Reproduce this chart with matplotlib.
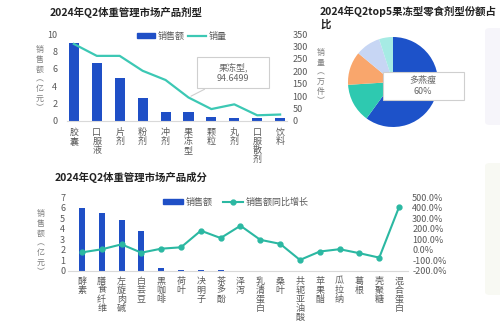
# -*- coding: utf-8 -*-
import matplotlib
matplotlib.use("Agg")
import matplotlib.pyplot as plt
from matplotlib.patches import Patch, Rectangle, FancyBboxPatch
from matplotlib.lines import Line2D

plt.rcParams['font.family'] = ['Noto Sans CJK SC', 'DejaVu Sans']

# top-left: product forms
form_cats = ['胶囊', '口服液', '片剂', '粉剂', '冲剂', '果冻型', '颗粒', '丸剂', '口服散剂', '饮料']
form_sales = [8.95, 6.65, 4.95, 2.7, 1.05, 1.05, 0.42, 0.38, 0.3, 0.3]
form_volume = [310, 262, 262, 202, 165, 94.6499, 48, 67, 23, 26]

# top-right: jelly snack share
pie_share = [60, 14, 12, 9, 5]
pie_top_name = '多燕瘦'

# bottom: ingredients
ingr_cats = ['酵素', '膳食纤维', '左旋肉碱', '白芸豆', '黑咖啡', '荷叶', '决明子', '茶多酚', '泽泻',
             '乳清蛋白', '桑叶', '共轭亚油酸', '苹果醋', '瓜拉纳', '葛根', '壳聚糖', '混合蛋白']
ingr_sales = [6.0, 5.47, 4.84, 3.83, 0.25, 0.13, 0.12, 0.05, 0, 0, 0, 0, 0, 0, 0, 0, 0]
ingr_growth = [-23, 6, 53, -26, 12, 25, 183, 113, 230, 96, 58, -95, -15, 7, -31, -73, 408]

BLUE = '#1f4fc6'
TEAL = '#3cc8b4'
TEAL2 = '#2bb8a2'
GRAY = '#595959'
W, H = 500, 322


def fx(px):
    return px / W


def fy(py):
    return 1 - py / H


def stack(s):
    return '\n'.join(s)


fig = plt.figure(figsize=(5, 3.22), dpi=100)
fig.patch.set_facecolor('white')

# faint side panels on the right edge
for y0, y1, c in [(28, 125, '#f6f5fa'), (163, 295, '#f8f9f3')]:
    fig.patches.append(FancyBboxPatch((fx(485), fy(y1)), 0.06, (y1 - y0) / H,
                                      boxstyle='round,pad=0,rounding_size=0.01',
                                      transform=fig.transFigure, fc=c, ec='none'))

# ---------- top-left chart ----------
ax1 = fig.add_axes([fx(67), fy(121), fx(287) - fx(67), 87 / H])
x = list(range(len(form_cats)))
ax1.bar(x, form_sales, width=0.44, color=BLUE)
ax1.set_ylim(0, 10)
ax1.set_yticks(range(0, 11, 2))
ax1.set_xlim(-0.3, len(form_cats) - 0.7)
ax1.set_xticks(x)
ax1.set_xticklabels([stack(c) for c in form_cats], fontsize=5.7, color=GRAY,
                    linespacing=1.0, va='top')
ax1b = ax1.twinx()
ax1b.plot(x, form_volume, color=TEAL, lw=1.6)
ax1b.set_ylim(0, 350)
ax1b.set_yticks(range(0, 351, 50))
for a in (ax1, ax1b):
    for s in a.spines.values():
        s.set_visible(False)
    a.tick_params(length=0, labelsize=6.5, labelcolor=GRAY)
ax1.spines['bottom'].set_visible(True)
ax1.spines['bottom'].set_color('#d9d9d9')
ax1.tick_params(axis='y', pad=7)
ax1.tick_params(axis='x', pad=5)
ax1b.tick_params(axis='y', pad=4)

fig.text(fx(50), fy(12), '2024年Q2体重管理市场产品剂型', fontsize=7.5, fontweight='bold',
         va='center', ha='left', color='#222222')
fig.text(fx(40), fy(79), stack('销售额') + '\n︵\n亿\n元\n︶', fontsize=5.7, color='#7f7f7f',
         ha='center', va='center', linespacing=1.1)
fig.text(fx(321), fy(77), stack('销量') + '\n︵\n万\n件\n︶', fontsize=5.7, color='#7f7f7f',
         ha='center', va='center', linespacing=1.1)
fig.legend(handles=[Patch(color=BLUE, label='销售额'), Line2D([], [], color=TEAL, lw=1.6, label='销量')],
           loc='center', bbox_to_anchor=(fx(182), fy(36)), ncol=2, frameon=False, fontsize=6.5,
           handlelength=2.0, handleheight=0.6, columnspacing=0.3, handletextpad=0.3,
           labelcolor=GRAY)

# callout for 果冻型
fig.patches.append(Rectangle((fx(197), fy(88)), (269 - 197) / W, 31 / H, transform=fig.transFigure,
                             fc='white', ec='#cfcfcf', lw=0.8, zorder=5))
fig.text(fx(233), fy(72.5), '果冻型,\n' + str(form_volume[5]), fontsize=6.5, color='#666666',
         ha='center', va='center', linespacing=1.2, zorder=6)
ax1b.annotate('', xy=(5, form_volume[5]), xytext=(fx(207), fy(88)), textcoords='figure fraction',
              arrowprops=dict(arrowstyle='-', color='#cfcfcf', lw=0.8))

# ---------- top-right pie ----------
fig.text(fx(320), fy(6), '2024年Q2top5果冻型零食剂型份额占\n比', fontsize=7.5, fontweight='bold',
         va='top', ha='left', linespacing=1.25, color='#222222')
axp = fig.add_axes([fx(348), fy(127), 90 / W, 90 / H])
axp.pie(pie_share, colors=['#1d52c9', '#2ec9b0', '#f9a66c', '#c7d6f4', '#a6ebe4'],
        startangle=90, counterclock=False, wedgeprops=dict(linewidth=0))
axp.set_xlim(-1, 1)
axp.set_ylim(-1, 1)
axp.set_aspect('equal')
axp.axis('off')
fig.patches.append(Rectangle((fx(383), fy(100)), (464 - 383) / W, 28 / H, transform=fig.transFigure,
                             fc='white', ec='#cfcfcf', lw=0.8, zorder=5))
fig.text(fx(423), fy(86), pie_top_name + '\n' + '%d%%' % pie_share[0], fontsize=6.5, color='#666666',
         ha='center', va='center', linespacing=1.2, zorder=6)

# ---------- bottom chart ----------
ax2 = fig.add_axes([fx(68), fy(271), fx(408) - fx(68), 73.7 / H])
x2 = list(range(len(ingr_cats)))
ax2.bar(x2, ingr_sales, width=0.3, color=BLUE)
ax2.set_ylim(0, 7)
ax2.set_yticks(range(0, 8))
ax2.set_xlim(-0.7, len(ingr_cats) - 0.55)
ax2.set_xticks(x2)
ax2.set_xticklabels([stack(c) for c in ingr_cats], fontsize=5.7, color=GRAY,
                    linespacing=1.0, va='top')
ax2b = ax2.twinx()
ax2b.plot(x2, ingr_growth, color=TEAL2, lw=1.5, marker='o', ms=3.5)
ax2b.set_ylim(-200, 500)
ax2b.set_yticks(range(-200, 501, 100))
ax2b.set_yticklabels(['%.1f%%' % v for v in range(-200, 501, 100)])
for a in (ax2, ax2b):
    for s in a.spines.values():
        s.set_visible(False)
    a.tick_params(length=0, labelsize=6.5, labelcolor=GRAY)
ax2.spines['bottom'].set_visible(True)
ax2.spines['bottom'].set_color('#d9d9d9')
ax2.tick_params(axis='y', pad=2)
ax2.tick_params(axis='x', pad=4)
ax2b.tick_params(axis='y', pad=3)

fig.text(fx(55), fy(177), '2024年Q2体重管理市场产品成分', fontsize=7.5, fontweight='bold',
         va='center', ha='left', color='#222222')
fig.text(fx(41), fy(243), stack('销售额') + '\n︵\n亿\n元\n︶', fontsize=5.7, color='#7f7f7f',
         ha='center', va='center', linespacing=1.1)
fig.legend(handles=[Patch(color=BLUE, label='销售额'),
                    Line2D([], [], color=TEAL2, lw=1.5, marker='o', ms=3.5, label='销售额同比增长')],
           loc='center', bbox_to_anchor=(fx(236), fy(202)), ncol=2, frameon=False, fontsize=6.5,
           handlelength=2.2, handleheight=0.6, columnspacing=1.2, handletextpad=0.3,
           labelcolor=GRAY)

fig.savefig('out.png', dpi=100)
